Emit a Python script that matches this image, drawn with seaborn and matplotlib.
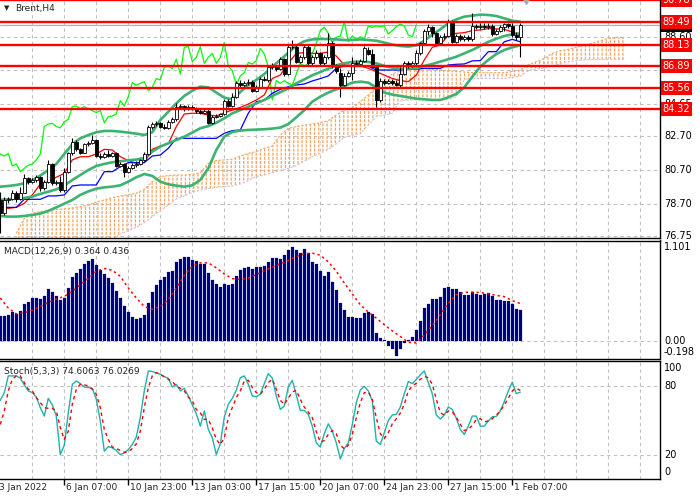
import numpy as np
import matplotlib
matplotlib.use("Agg")
import matplotlib.pyplot as plt
import matplotlib.transforms as mtransforms
import seaborn as sns

# %% Brent H4 candles (bar 0 = 3 Jan 2022)
opens = [78.92, 78.13, 78.92, 78.96, 79.36, 78.96, 79.36, 80.21, 80.01, 80.11,
         80.27, 79.61, 80.01, 81.06, 79.91, 79.99, 79.51, 80.60, 81.69, 82.38,
         81.93, 81.73, 82.25, 82.33, 82.48, 81.53, 81.45, 81.65, 81.53, 81.69,
         80.94, 81.06, 80.60, 80.80, 80.98, 81.06, 81.30, 81.65, 83.28, 83.43,
         83.47, 83.28, 83.20, 83.57, 83.71, 84.46, 84.50, 84.34, 84.46, 84.34,
         84.23, 84.11, 84.23, 83.51, 83.87, 83.91, 84.03, 84.82, 84.50, 85.06,
         85.89, 85.73, 85.85, 85.95, 85.41, 85.61, 86.13, 86.05, 86.80, 86.88,
         86.72, 87.28, 86.40, 87.99, 88.03, 87.14, 87.39, 88.03, 87.04, 87.39,
         87.63, 87.04, 87.39, 88.27, 86.88, 86.44, 85.75, 86.29, 86.48, 87.08,
         87.00, 87.20, 87.83, 87.59, 86.84, 84.86, 86.01, 85.85, 86.01, 85.85,
         85.75, 86.40, 87.04, 86.88, 87.04, 87.63, 88.23, 88.98, 89.18, 88.82,
         88.27, 88.58, 88.66, 89.53, 88.32, 88.66, 88.46, 88.62, 88.46, 89.26,
         89.18, 89.26, 89.22, 89.26, 88.78, 88.98, 89.22, 89.37, 89.26, 88.72, 88.62]
highs = [79.41, 79.12, 79.12, 79.51, 79.47, 79.71, 80.46, 80.31, 80.21, 80.40,
         80.35, 80.11, 81.30, 81.14, 80.11, 80.35, 80.80, 81.79, 82.58, 82.48,
         81.99, 82.33, 82.44, 82.78, 82.52, 81.69, 81.79, 81.89, 81.79, 81.77,
         81.20, 81.14, 80.94, 81.10, 81.22, 81.37, 81.79, 83.37, 83.55, 83.59,
         83.57, 83.43, 83.67, 83.87, 84.70, 84.62, 84.58, 84.54, 84.54, 84.46,
         84.34, 84.31, 84.37, 83.99, 84.03, 84.11, 84.90, 84.90, 85.26, 86.01,
         86.05, 85.97, 86.13, 86.05, 85.75, 86.25, 86.29, 86.92, 87.04, 86.96,
         87.39, 87.35, 88.11, 88.42, 88.11, 87.53, 88.13, 88.11, 87.53, 87.83,
         87.73, 87.53, 88.82, 88.35, 87.00, 86.74, 86.44, 86.60, 87.39, 87.24,
         87.31, 88.07, 88.03, 87.87, 86.94, 86.15, 86.13, 86.13, 86.09, 86.05,
         86.84, 87.20, 87.16, 87.16, 87.83, 88.32, 89.10, 89.37, 89.26, 88.90,
         88.70, 88.82, 89.65, 89.61, 88.78, 88.78, 88.74, 88.74, 90.01, 89.37,
         89.41, 89.41, 89.41, 89.37, 89.10, 89.33, 89.45, 89.45, 89.45, 88.90, 89.45]
lows = [76.94, 78.03, 78.76, 78.92, 78.82, 78.92, 79.32, 79.87, 79.95, 80.01,
        79.47, 79.51, 79.95, 79.81, 79.81, 79.41, 79.41, 80.50, 81.59, 81.85,
        81.65, 81.69, 82.13, 82.25, 81.45, 81.34, 81.39, 81.45, 81.45, 80.86,
        80.90, 80.27, 80.54, 80.74, 80.90, 81.00, 81.22, 81.57, 83.16, 83.32,
        83.20, 83.12, 83.12, 83.47, 83.63, 84.34, 84.23, 84.27, 84.27, 84.11,
        84.03, 84.03, 83.43, 83.43, 83.79, 83.87, 83.95, 84.42, 84.42, 84.98,
        85.65, 85.65, 85.77, 85.33, 85.33, 85.55, 85.97, 85.93, 86.72, 86.60,
        86.64, 86.29, 86.33, 87.87, 87.04, 87.04, 87.28, 86.94, 86.96, 87.28,
        86.94, 86.96, 87.31, 86.74, 86.48, 85.06, 85.69, 86.21, 86.05, 86.88,
        86.92, 87.14, 87.51, 86.80, 84.46, 84.76, 85.73, 85.81, 85.73, 85.69,
        85.61, 86.33, 86.76, 86.80, 86.88, 87.55, 88.15, 88.70, 88.58, 88.15,
        88.23, 88.46, 88.58, 88.23, 88.27, 88.38, 88.38, 88.38, 88.38, 89.06,
        89.06, 89.10, 89.10, 88.66, 88.70, 88.90, 88.98, 89.14, 88.62, 88.42, 87.39]
closes = [78.13, 78.92, 78.96, 79.36, 78.96, 79.36, 80.21, 80.01, 80.11, 80.27,
          79.61, 80.01, 81.06, 79.91, 79.99, 79.51, 80.60, 81.69, 82.38, 81.93,
          81.73, 82.25, 82.33, 82.48, 81.53, 81.45, 81.65, 81.53, 81.69, 80.94,
          81.06, 80.60, 80.80, 80.98, 81.06, 81.30, 81.65, 83.28, 83.43, 83.47,
          83.28, 83.20, 83.57, 83.71, 84.46, 84.50, 84.34, 84.46, 84.34, 84.23,
          84.11, 84.23, 83.51, 83.87, 83.91, 84.03, 84.82, 84.50, 85.06, 85.89,
          85.73, 85.85, 85.95, 85.41, 85.61, 86.13, 86.05, 86.80, 86.88, 86.72,
          87.28, 86.40, 87.99, 88.03, 87.14, 87.39, 88.03, 87.04, 87.39, 87.63,
          87.04, 87.39, 88.27, 86.88, 86.60, 85.75, 86.29, 86.48, 87.08, 87.00,
          87.20, 87.93, 87.59, 86.84, 84.86, 86.01, 85.85, 86.01, 85.85, 85.75,
          86.40, 87.04, 86.88, 87.04, 87.63, 88.23, 88.98, 89.18, 88.82, 88.27,
          88.58, 88.66, 89.53, 88.32, 88.66, 88.46, 88.62, 88.46, 89.26, 89.18,
          89.26, 89.22, 89.26, 88.78, 88.98, 89.22, 89.37, 89.26, 88.72, 88.62, 89.31]

# indicator lines sampled every 2nd bar (0, 2, ... 130)
bb_up = [79.71, 79.75, 79.81, 79.91, 80.09, 80.37, 80.70, 81.06, 81.65, 82.23,
         82.58, 82.78, 82.94, 83.02, 83.02, 82.98, 82.92, 82.86, 82.78, 82.94,
         83.67, 84.16, 84.66, 85.10, 85.41, 85.65, 85.61, 85.30, 85.00, 84.90,
         85.33, 85.75, 86.05, 86.40, 86.84, 87.24, 87.67, 88.09, 88.35, 88.46,
         88.48, 88.48, 88.46, 88.42, 88.42, 88.46, 88.42, 88.38, 88.27, 88.15,
         88.07, 88.03, 88.11, 88.38, 88.74, 89.06, 89.41, 89.65, 89.81, 89.87,
         89.93, 89.91, 89.85, 89.71, 89.57, 89.51]
bb_mid = [78.92, 78.96, 79.00, 79.04, 79.12, 79.28, 79.41, 79.55, 79.77, 80.11,
          80.40, 80.70, 80.94, 81.06, 81.16, 81.22, 81.28, 81.32, 81.41, 81.79,
          82.09, 82.29, 82.48, 82.68, 82.92, 83.18, 83.31, 83.51, 83.77, 84.07,
          84.26, 84.46, 84.66, 84.86, 85.10, 85.32, 85.55, 85.85, 86.08, 86.33,
          86.52, 86.72, 86.92, 87.04, 87.12, 87.14, 87.12, 87.04, 86.88, 86.78,
          86.72, 86.72, 86.76, 86.88, 87.00, 87.14, 87.28, 87.43, 87.63, 87.83,
          88.07, 88.31, 88.50, 88.66, 88.76, 88.82]
bb_lo = [77.97, 77.93, 77.93, 77.97, 78.03, 78.11, 78.27, 78.48, 78.70, 78.92,
         79.22, 79.43, 79.59, 79.67, 79.71, 79.79, 80.01, 80.27, 80.46, 80.35,
         80.01, 79.85, 79.77, 79.71, 79.79, 80.11, 80.80, 81.89, 82.68, 82.96,
         83.04, 83.08, 83.10, 83.12, 83.16, 83.22, 83.43, 83.83, 84.26, 84.76,
         85.06, 85.30, 85.49, 85.69, 85.89, 85.95, 85.89, 85.61, 85.30, 85.18,
         85.10, 85.02, 84.94, 84.90, 84.86, 84.86, 85.02, 85.22, 85.61, 86.24,
         86.84, 87.24, 87.59, 87.83, 87.99, 88.11]
tenkan = [78.52, 78.42, 78.48, 78.72, 79.22, 79.87, 80.01, 80.27, 80.50, 81.30,
          81.49, 81.49, 81.65, 81.93, 81.89, 81.49, 81.26, 81.10, 81.14, 81.93,
          82.13, 82.25, 83.28, 84.03, 84.07, 84.07, 83.97, 83.91, 84.10, 84.26,
          84.42, 84.62, 84.86, 85.16, 86.14, 86.34, 87.04, 87.63, 87.67, 87.63,
          87.63, 87.71, 87.47, 86.94, 86.92, 86.88, 86.74, 86.54, 86.34, 86.14,
          86.01, 85.95, 86.34, 87.24, 87.99, 88.13, 88.72, 88.82, 88.86, 88.98,
          89.02, 89.10, 89.08, 89.06, 88.90, 88.70]
kijun = [78.48, 78.48, 78.48, 78.96, 78.96, 78.96, 79.16, 79.16, 79.22, 79.75,
         79.81, 79.81, 79.81, 80.60, 80.60, 80.90, 81.14, 81.14, 81.14, 81.53,
         81.59, 81.99, 82.58, 82.58, 82.58, 82.58, 82.58, 82.58, 82.88, 83.04,
         83.08, 84.07, 84.76, 84.86, 85.26, 85.49, 85.65, 85.75, 85.81, 85.99,
         86.13, 86.29, 86.74, 86.88, 86.88, 86.86, 86.86, 86.64, 86.64, 86.64,
         86.64, 86.68, 86.70, 86.74, 86.74, 86.74, 86.94, 86.98, 87.00, 87.18,
         87.20, 87.73, 87.73, 88.32, 88.46, 88.32]

# Ichimoku cloud, bars 4, 6, ... 156 (runs 26 bars past the last candle)
span_a = [76.94, 77.83, 78.13, 78.23, 78.29, 78.35, 78.39, 78.45, 78.52, 78.62,
          78.80, 78.92, 79.06, 79.16, 79.24, 79.32, 79.55, 80.01, 80.31, 80.37,
          80.40, 80.40, 80.44, 80.54, 81.10, 81.26, 81.30, 81.34, 81.53, 81.69,
          81.79, 81.99, 82.13, 82.78, 83.18, 83.28, 83.36, 83.43, 83.51, 83.63,
          83.97, 84.26, 84.42, 84.76, 85.16, 85.61, 86.05, 86.40, 86.60, 86.68,
          86.72, 86.72, 86.68, 86.64, 86.60, 86.56, 86.52, 86.48, 86.48, 86.48,
          86.48, 86.48, 86.56, 86.64, 86.94, 87.14, 87.33, 87.63, 87.79, 87.87,
          87.99, 88.11, 88.23, 88.38, 88.52, 88.58, 88.58]
span_b = [76.54, 76.54, 76.54, 76.54, 76.54, 76.54, 76.54, 76.54, 76.54, 76.54,
          76.54, 76.54, 76.54, 76.90, 77.08, 77.30, 77.57, 77.93, 78.29, 78.62,
          78.98, 79.16, 79.36, 79.51, 79.59, 79.67, 79.71, 79.75, 79.87, 80.07,
          80.31, 80.39, 80.54, 80.66, 80.80, 80.96, 81.22, 81.49, 81.69, 81.93,
          82.25, 82.64, 82.78, 82.84, 83.37, 83.87, 83.97, 84.07, 84.82, 84.86,
          84.86, 84.86, 84.86, 84.86, 84.90, 85.06, 86.08, 86.14, 86.14, 86.14,
          86.14, 86.14, 86.20, 86.28, 86.60, 86.70, 86.76, 86.88, 87.00, 87.12,
          87.20, 87.24, 87.26, 87.27, 87.27, 87.27, 87.27]

# MACD(12,26,9): histogram every bar, signal every 2nd bar
macd = [0.289, 0.289, 0.297, 0.336, 0.316, 0.348, 0.426, 0.449, 0.500, 0.500,
        0.488, 0.523, 0.605, 0.574, 0.527, 0.480, 0.500, 0.617, 0.746, 0.793,
        0.840, 0.902, 0.934, 0.957, 0.887, 0.832, 0.785, 0.730, 0.676, 0.586,
        0.496, 0.406, 0.340, 0.277, 0.254, 0.266, 0.301, 0.441, 0.566, 0.652,
        0.707, 0.746, 0.809, 0.816, 0.918, 0.957, 0.980, 0.980, 0.941, 0.934,
        0.902, 0.895, 0.793, 0.715, 0.668, 0.629, 0.668, 0.652, 0.668, 0.762,
        0.832, 0.855, 0.863, 0.844, 0.859, 0.867, 0.875, 0.922, 0.969, 0.969,
        0.957, 1.004, 1.063, 1.101, 1.055, 1.027, 1.074, 1.020, 0.922, 0.898,
        0.820, 0.758, 0.809, 0.691, 0.594, 0.441, 0.359, 0.277, 0.277, 0.266,
        0.266, 0.324, 0.340, 0.313, 0.090, 0.031, 0.008, -0.055, -0.094, -0.175,
        -0.094, -0.023, 0.012, 0.043, 0.125, 0.230, 0.383, 0.430, 0.488, 0.488,
        0.512, 0.617, 0.629, 0.605, 0.605, 0.570, 0.535, 0.535, 0.570, 0.547,
        0.535, 0.547, 0.559, 0.523, 0.480, 0.480, 0.465, 0.465, 0.430, 0.371, 0.364]
macd_sig = [0.500, 0.383, 0.316, 0.328, 0.359, 0.402, 0.449, 0.488, 0.520, 0.578,
            0.656, 0.727, 0.813, 0.844, 0.824, 0.754, 0.617, 0.500, 0.402, 0.367,
            0.402, 0.480, 0.617, 0.766, 0.871, 0.910, 0.910, 0.852, 0.781, 0.727,
            0.715, 0.734, 0.773, 0.820, 0.859, 0.898, 0.938, 0.984, 1.016, 1.023,
            1.000, 0.922, 0.813, 0.676, 0.547, 0.422, 0.336, 0.266, 0.188, 0.117,
            0.051, -0.016, -0.023, 0.070, 0.180, 0.305, 0.441, 0.539, 0.566, 0.570,
            0.563, 0.551, 0.531, 0.516, 0.470, 0.436]

# Stochastic(5,3,3)
stoch_k = [67.5, 74.2, 88.7, 88.7, 88.7, 86.7, 80.9, 75.7, 74.2, 70.4,
           61.2, 53.9, 69.3, 63.5, 53.9, 20.6, 28.7, 56.8, 81.4, 84.3,
           82.0, 79.1, 78.6, 78.0, 68.4, 49.6, 23.5, 27.5, 26.4, 24.1,
           20.6, 22.0, 24.9, 29.3, 35.7, 52.5, 75.7, 93.0, 92.5, 91.3,
           90.1, 88.1, 86.7, 79.1, 81.4, 75.7, 78.0, 71.3, 63.5, 55.9,
           45.2, 58.3, 42.3, 35.1, 20.6, 29.9, 53.0, 64.1, 69.3, 76.2,
           87.2, 88.7, 81.4, 71.3, 70.7, 72.8, 82.0, 90.7, 86.7, 71.3,
           59.7, 62.6, 79.1, 84.9, 72.2, 58.8, 58.8, 55.4, 45.2, 30.7,
           27.0, 38.6, 47.2, 40.9, 30.7, 16.8, 25.8, 30.7, 46.7, 65.5,
           76.5, 79.7, 75.7, 67.0, 32.2, 29.3, 39.4, 50.1, 54.8, 55.4,
           61.7, 73.3, 83.8, 82.0, 85.5, 89.6, 93.0, 82.9, 73.3, 54.8,
           51.3, 54.8, 61.7, 59.7, 51.9, 42.3, 38.0, 45.2, 53.9, 53.9,
           45.2, 45.2, 49.6, 53.3, 53.6, 58.3, 66.4, 75.7, 83.2, 73.3, 74.6]
stoch_d = [46.7, 58.3, 75.7, 85.8, 88.7, 88.7, 82.9, 77.1, 75.7, 69.9,
           65.5, 61.2, 60.6, 60.6, 58.3, 43.8, 33.6, 40.9, 64.1, 77.1,
           81.4, 80.9, 80.0, 77.1, 72.8, 61.2, 42.3, 33.6, 27.0, 25.8,
           24.1, 22.6, 22.9, 25.8, 29.9, 40.9, 61.2, 78.6, 88.7, 91.6,
           90.1, 87.8, 85.8, 83.8, 80.0, 78.0, 75.7, 70.4, 67.0, 59.7,
           56.8, 51.0, 51.0, 43.8, 33.6, 29.3, 35.1, 52.5, 61.2, 69.9,
           75.7, 84.3, 84.9, 78.6, 74.2, 72.8, 77.1, 82.9, 85.8, 77.1,
           67.5, 64.1, 69.3, 74.8, 76.2, 68.4, 61.7, 57.4, 52.5, 40.3,
           31.3, 32.8, 38.0, 41.4, 38.6, 28.7, 25.5, 28.7, 38.0, 52.5,
           65.5, 74.2, 74.8, 68.4, 52.5, 38.6, 34.5, 39.4, 47.2, 51.6,
           56.5, 64.1, 75.7, 80.0, 82.3, 85.8, 88.1, 87.2, 81.4, 68.4,
           56.8, 54.8, 58.3, 57.4, 53.0, 46.7, 41.4, 42.3, 45.8, 51.0,
           51.6, 49.0, 49.6, 51.6, 54.8, 58.3, 63.5, 69.3, 75.7, 78.0, 76.0]

levels = [90.78, 89.49, 88.13, 86.89, 85.56, 84.32]
price_ticks = [88.60, 86.65, 84.65, 82.70, 80.70, 78.70, 76.75]
date_labels = ["3 Jan 2022", "6 Jan 07:00", "10 Jan 23:00", "13 Jan 03:00", "17 Jan 15:00",
               "20 Jan 07:00", "24 Jan 23:00", "27 Jan 15:00", "1 Feb 07:00"]
date_bars = [0, 16, 32, 48, 64, 80, 96, 112, 128]

# %%
sns.set_theme(style="white")
plt.rcParams["font.family"] = ["DejaVu Sans"]
plt.rcParams["hatch.linewidth"] = 0.9

GRID = "#C0C0C0"
fig = plt.figure(figsize=(7, 5), dpi=100)


def panel(top, bottom):
    return fig.add_axes([0, 1 - bottom / 500, 660 / 700, (bottom - top) / 500])


ax1 = panel(0, 238)
ax2 = panel(240.5, 358.5)
ax3 = panel(361, 479)

bars = np.arange(len(closes))
even = bars[::2]
cloud_idx = np.arange(4, 157, 2)

for ax in (ax1, ax2, ax3):
    ax.set_xlim(-0.075, 164.925)
    ax.set_xticks([])
    ax.set_yticks([])
    ax.set_facecolor("white")
    for s in ax.spines.values():
        s.set_color("black")
        s.set_linewidth(1.0)
    ax.spines["left"].set_visible(False)
    for g in range(8, 165, 8):
        ax.axvline(g, color=GRID, lw=0.8, ls=(0, (3, 3)), zorder=0)
ax1.spines["top"].set_visible(False)


def right_label(ax, y, s):
    ax.text(1.006, y, s, transform=ax.get_yaxis_transform(), ha="left", va="center",
            fontsize=7, color="black", clip_on=False, zorder=5)


# %% main panel
ax1.set_ylim(76.66, 90.80)
for v in price_ticks:
    ax1.axhline(v, color=GRID, lw=0.8, ls=(0, (3, 3)), zorder=0)
    right_label(ax1, v, f"{v:.2f}")

ax1.fill_between(cloud_idx, span_b, span_a, facecolor="none", edgecolor="#F4A460",
                 hatch="||||", linewidth=0, zorder=1)
ax1.fill_between(cloud_idx, span_b, span_a, facecolor="none", edgecolor="white",
                 hatch="----", linewidth=0, zorder=1.1)
sns.lineplot(x=cloud_idx, y=span_a, ax=ax1, color="#F4A460", lw=0.8,
             linestyle=(0, (2, 1.5)), zorder=1.2)
sns.lineplot(x=cloud_idx, y=span_b, ax=ax1, color="#D8BFD8", lw=0.8,
             linestyle=(0, (2, 1.5)), zorder=1.2)

o = np.array(opens)
c = np.array(closes)
ax1.vlines(bars, lows, highs, color="black", lw=0.8, zorder=4)
ax1.bar(bars, np.maximum(np.abs(c - o), 0.02), bottom=np.minimum(o, c), width=0.7,
        color=np.where(c >= o, "white", "black"), edgecolor="black", linewidth=0.6, zorder=5)

sns.lineplot(x=bars[:-26], y=c[26:], ax=ax1, color="#00FF00", lw=0.9, zorder=3)
sns.lineplot(x=even, y=tenkan, ax=ax1, color="#FF0000", lw=0.9, zorder=3)
sns.lineplot(x=even, y=kijun, ax=ax1, color="#0000FF", lw=0.9, zorder=3)
for band in (bb_up, bb_mid, bb_lo):
    sns.lineplot(x=even, y=band, ax=ax1, color="#3CB371", lw=1.9, zorder=3.5)

ax1.axhline(closes[-1], color="#B0B0B0", lw=0.8, zorder=2)
for v in levels:
    ax1.axhline(v, color="#FF0000", lw=1.7, zorder=6)

ax1.text(1.004, closes[-1], f"{closes[-1]:.2f}", transform=ax1.get_yaxis_transform(),
         ha="left", va="center", fontsize=7, color="white", clip_on=False, zorder=8,
         bbox=dict(boxstyle="square,pad=0.2", fc="black", ec="none"))
for v in levels:
    ax1.text(1.004, v, f"{v:.2f}", transform=ax1.get_yaxis_transform(), ha="left",
             va="center", fontsize=7, color="white", clip_on=False, zorder=9,
             bbox=dict(boxstyle="square,pad=0.2", fc="#FF0000", ec="none"))

ax1.text(0.006, 0.966, "\u25bc", transform=ax1.transAxes, fontsize=5, va="center")
ax1.text(0.023, 0.966, "Brent,H4", transform=ax1.transAxes, fontsize=6.5, va="center")
top_mark = mtransforms.blended_transform_factory(ax1.transData, ax1.transAxes)
ax1.plot([131.4], [0.995], marker="v", color="#A8A8A8", markersize=5,
         transform=top_mark, clip_on=False, zorder=7)

# %% MACD panel
ax2.set_ylim(-0.205, 1.171)
ax2.axhline(0, color=GRID, lw=0.8, ls=(0, (3, 3)), zorder=0)
ax2.bar(bars, macd, width=0.72, color="#000080", edgecolor="#000080", linewidth=0.15, zorder=2)
sns.lineplot(x=even, y=macd_sig, ax=ax2, color="#FF0000", lw=1.1,
             linestyle=(0, (1.5, 2)), zorder=3)
right_label(ax2, 1.101, "1.101")
right_label(ax2, 0.0, "0.00")
right_label(ax2, -0.129, "-0.198")
ax2.text(0.006, 0.91, "MACD(12,26,9) 0.364 0.436", transform=ax2.transAxes,
         fontsize=6.5, va="center")

# %% Stochastic panel
ax3.set_ylim(-0.6, 101.6)
for v in (80, 20):
    ax3.axhline(v, color=GRID, lw=0.8, ls=(0, (3, 3)), zorder=0)
sns.lineplot(x=bars, y=stoch_k, ax=ax3, color="#20B2AA", lw=1.0, zorder=3)
sns.lineplot(x=bars, y=stoch_d, ax=ax3, color="#FF0000", lw=1.0,
             linestyle=(0, (2.5, 2.5)), zorder=3)
right_label(ax3, 95.9, "100")
right_label(ax3, 80, "80")
right_label(ax3, 20, "20")
right_label(ax3, 5.5, "0")
ax3.text(0.006, 0.915, "Stoch(5,3,3) 74.6063 76.0269", transform=ax3.transAxes,
         fontsize=6.5, va="center")

ax3.set_xticks(date_bars[1:])
ax3.tick_params(axis="x", bottom=True, direction="out", length=4, width=1,
                color="black", labelbottom=False)
date_tr = mtransforms.blended_transform_factory(ax3.transData, ax3.transAxes)
for b, s in zip(date_bars, date_labels):
    ax3.text(b + (0.3 if b else -0.4), -0.076, s, transform=date_tr, ha="left",
             va="center", fontsize=6.5, clip_on=False)

for ax in (ax1, ax2, ax3):
    ax.set_xlabel("")
    ax.set_ylabel("")

fig.savefig("out.png", dpi=100)
